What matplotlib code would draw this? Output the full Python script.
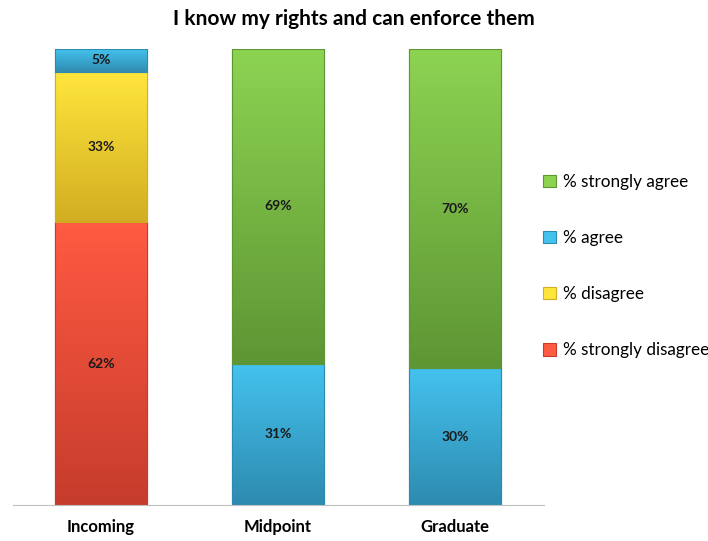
import numpy as np
import matplotlib.pyplot as plt
from matplotlib.colors import LinearSegmentedColormap

plt.rcParams['font.family'] = ['Lato', 'DejaVu Sans']

# Survey results (% of respondents)
groups = ["Incoming", "Midpoint", "Graduate"]
strongly_disagree = [62, 0, 0]
disagree = [33, 0, 0]
agree = [5, 31, 30]
strongly_agree = [0, 69, 70]

series = [
    ("% strongly disagree", strongly_disagree, "#FF5A42", "#C63C2C"),
    ("% disagree", disagree, "#FFE63C", "#D2AE22"),
    ("% agree", agree, "#44C2EE", "#2E8BB0"),
    ("% strongly agree", strongly_agree, "#8DD352", "#5E9634"),
]

fig = plt.figure(figsize=(7.08, 5.41), dpi=100)
ax = fig.add_axes([12.5 / 708, 36 / 541, 531 / 708, 456 / 541])

x = np.arange(len(groups))
width = 0.515
bottom = np.zeros(len(groups))
handles = {}
for label, vals, top_c, bot_c in series:
    vals = np.array(vals, dtype=float)
    bars = ax.bar(x, vals, width, bottom=bottom, color=top_c,
                  edgecolor=bot_c, linewidth=0.8, label=label, zorder=2)
    handles[label] = bars
    cmap = LinearSegmentedColormap.from_list(label, [bot_c, top_c])
    grad = np.linspace(1, 0, 64).reshape(-1, 1)
    for xi, v, b in zip(x, vals, bottom):
        if v <= 0:
            continue
        # gradient fill, lighter at the top
        ax.imshow(grad, cmap=cmap, aspect='auto', zorder=2.5,
                  extent=[xi - width / 2, xi + width / 2, b, b + v],
                  interpolation='bicubic')
        ax.add_patch(plt.Rectangle((xi - width / 2, b), width, v, fill=False,
                                   edgecolor=bot_c, linewidth=0.8, zorder=3))
        ax.text(xi, b + v / 2, "%d%%" % v, ha='center', va='center',
                fontsize=10, fontweight='bold', color='#1a1a1a', zorder=4)
    bottom += vals

ax.set_xlim(-0.5, 2.5)
ax.set_ylim(0, 100)
ax.set_xticks(x)
ax.set_xticklabels(groups, fontsize=12, fontweight='bold')
ax.tick_params(axis='x', length=0, pad=10)
ax.set_yticks([])
for s in ['left', 'right', 'top']:
    ax.spines[s].set_visible(False)
ax.spines['bottom'].set_color('#BFBFBF')

order = ["% strongly agree", "% agree", "% disagree", "% strongly disagree"]
fig.legend([handles[o] for o in order], order, loc='center left',
           bbox_to_anchor=(528 / 708, 275 / 541), frameon=False, fontsize=12.3,
           handlelength=0.75, handleheight=0.75, handletextpad=0.4,
           labelspacing=2.35)

fig.text(0.5, 1 - 19 / 541, "I know my rights and can enforce them",
         ha='center', va='center', fontsize=15, fontweight='bold')

fig.savefig("out.png", dpi=100)
